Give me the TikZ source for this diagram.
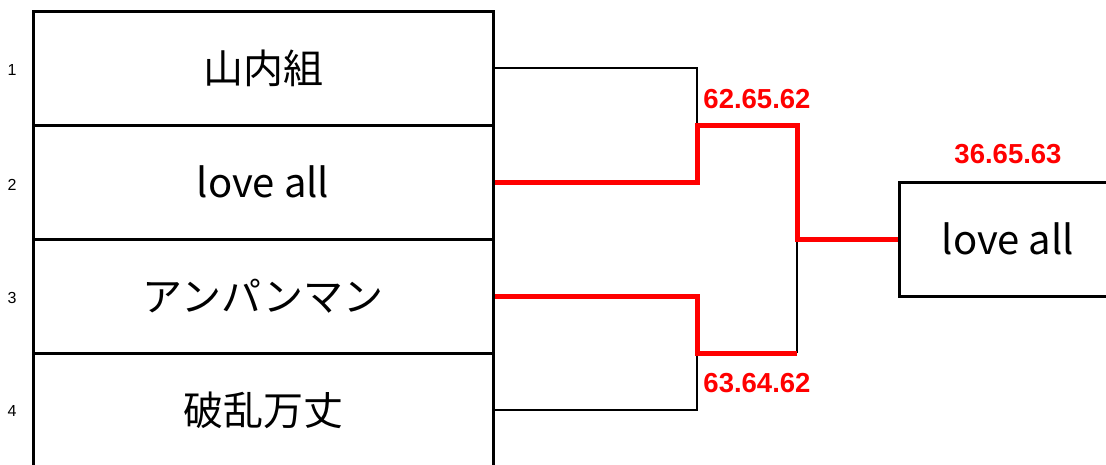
\documentclass[tikz,border=0pt]{standalone}
\usepackage{fontspec}
\newfontfamily\jpfont{Noto Sans CJK JP}
\newfontfamily\numfont{Liberation Sans}
\begin{document}
\begin{tikzpicture}[x=1pt,y=-1pt,
  teambox/.style={draw=black,line width=3pt,minimum width=460pt,minimum height=114pt,inner sep=0pt,font=\jpfont\fontsize{40}{46}\selectfont},
  seed/.style={inner sep=0pt,font=\numfont\fontsize{16}{18}\selectfont},
  score/.style={inner sep=0pt,text=red,font=\numfont\bfseries\fontsize{27.5}{30}\selectfont},
  blk/.style={draw=black,line width=2pt},
  win/.style={draw=red,line width=5pt,line join=miter}]
\useasboundingbox (0,0) rectangle (1106,464);
\node[teambox] (r1) at (263,68) {山内組};
\node[teambox] (r2) at (263,182) {love all};
\node[teambox] (r3) at (263,296) {アンパンマン};
\node[teambox] (r4) at (263,410) {破乱万丈};
\node[teambox,minimum width=230pt] (w) at (1014,239) {\hspace*{-12pt}love all};
\node[seed] (n1) at (12,70) {1};
\node[seed] (n2) at (12,185) {2};
\node[seed] (n3) at (12,298) {3};
\node[seed] (n4) at (12,411) {4};
\coordinate (m1) at (697,125);
\coordinate (m2) at (697,353);
\coordinate (f) at (797,239);
\draw[blk] (r1.east) -| (m1);
\draw[blk] (r4.east) -| (m2);
\draw[blk] (m2 -| f) -- (f);
\draw[win] (r2.east) -| (m1) -| (f) -- (w.west);
\draw[win] (r3.east) -| (m2) -- (m2 -| f);
\node[score] (s1) at (757,99) {62.65.62};
\node[score] (s2) at (757,383) {63.64.62};
\node[score] (s3) at (1008,154) {36.65.63};
\end{tikzpicture}
\end{document}
